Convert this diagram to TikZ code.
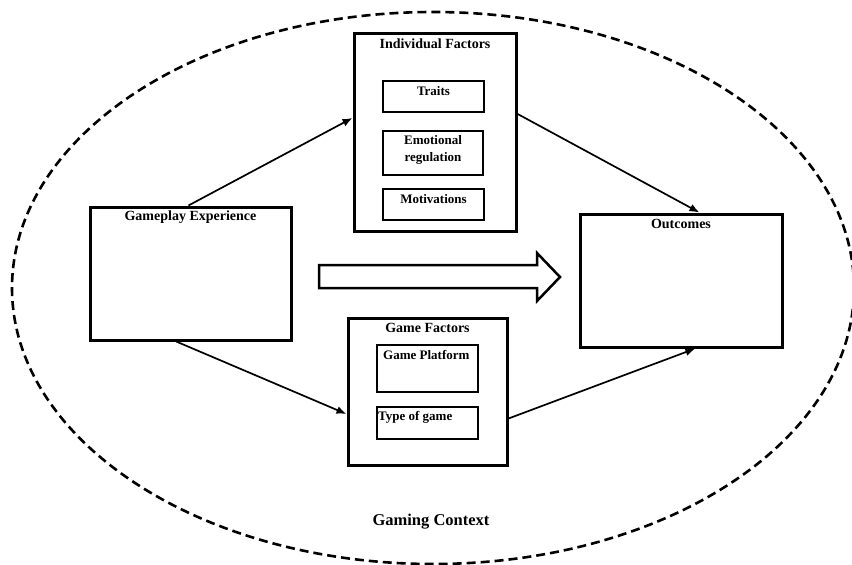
\documentclass[tikz,border=0pt]{standalone}
\usepackage{fontspec}
\setmainfont{Liberation Serif}
\usetikzlibrary{calc,arrows.meta,shapes.geometric}
\begin{document}
\begin{tikzpicture}[x=1pt,y=-1pt,
  outerbox/.style={draw, line width=3pt, rectangle, inner sep=0pt},
  innerbox/.style={draw, line width=1.8pt, rectangle, inner sep=0pt},
  ttl/.style={font=\fontsize{14}{15}\selectfont\bfseries, inner sep=0pt},
  itm/.style={font=\fontsize{13}{17}\selectfont\bfseries, inner sep=0pt, align=center},
  link/.style={line width=1.7pt, -{Latex[length=10pt,width=8pt]}},
  bigarrow/.style={draw, line width=2.5pt, line join=miter, fill=white}]
  \useasboundingbox (0,0) rectangle (852,565);
  \fill[white] (0,0) rectangle (852,565);

  % surrounding context
  \node[ellipse, draw, line width=2.6pt, dash pattern=on 9pt off 5pt,
        minimum width=842pt, minimum height=552pt, inner sep=0pt] (ctx) at (433,288) {};
  \node[font=\fontsize{16.5}{18}\selectfont\bfseries, inner sep=0pt] (ctxlabel) at (431,522) {Gaming Context};

  % gameplay experience
  \node[outerbox, minimum width=201pt, minimum height=133pt] (gp) at (190.5,273.5) {};
  \node[ttl] (gptitle) at (190.5,217) {Gameplay Experience};

  % individual factors
  \node[outerbox, minimum width=162pt, minimum height=198pt] (ind) at (435,132) {};
  \node[ttl] (indtitle) at (435,44) {Individual Factors};
  \node[innerbox, minimum width=101pt, minimum height=31pt] (traits) at (433.5,96.5) {};
  \node[itm] (traitstext) at (433.5,91) {Traits};
  \node[innerbox, minimum width=100pt, minimum height=44pt] (emo) at (433,153) {};
  \node[itm] (emotext) at (433,150) {Emotional\\regulation};
  \node[innerbox, minimum width=101pt, minimum height=31pt] (mot) at (433.5,204.5) {};
  \node[itm] (mottext) at (433.5,199) {Motivations};

  % game factors
  \node[outerbox, minimum width=159pt, minimum height=147pt] (gf) at (427.5,391.5) {};
  \node[ttl] (gftitle) at (427.5,328) {Game Factors};
  \node[innerbox, minimum width=101pt, minimum height=47pt] (plat) at (427.5,368.5) {};
  \node[itm, anchor=west] (plattext) at (383,355) {Game Platform};
  \node[innerbox, minimum width=101pt, minimum height=32pt] (type) at (427.5,423) {};
  \node[itm, anchor=west] (typetext) at (378,417) {Type of game};

  % outcomes
  \node[outerbox, minimum width=202pt, minimum height=133pt] (out) at (681,280.5) {};
  \node[ttl] (outtitle) at (681,224) {Outcomes};

  % main effect arrow
  \path (319,265) coordinate (ba1) (537,265) coordinate (ba2) (537,253) coordinate (ba3)
        (560,277) coordinate (ba4) (537,301) coordinate (ba5) (537,288) coordinate (ba6)
        (319,288) coordinate (ba7);
  \draw[bigarrow] (ba1) -- (ba2) -- (ba3) -- (ba4) -- (ba5) -- (ba6) -- (ba7) -- cycle;

  % paths through the factors
  \draw[link] ($(gp.north west)!0.49!(gp.north east)$) -- ($(ind.north west)!0.43!(ind.south west)$);
  \draw[link] ($(ind.north east)!0.41!(ind.south east)$) -- ($(out.north west)!0.59!(out.north east)$);
  \draw[link] ($(gp.south west)!0.43!(gp.south east)$) -- ($(gf.north west)!0.65!(gf.south west)$);
  \draw[link] ($(gf.north east)!0.68!(gf.south east)$) -- ($(out.south west)!0.57!(out.south east)$);
\end{tikzpicture}
\end{document}
